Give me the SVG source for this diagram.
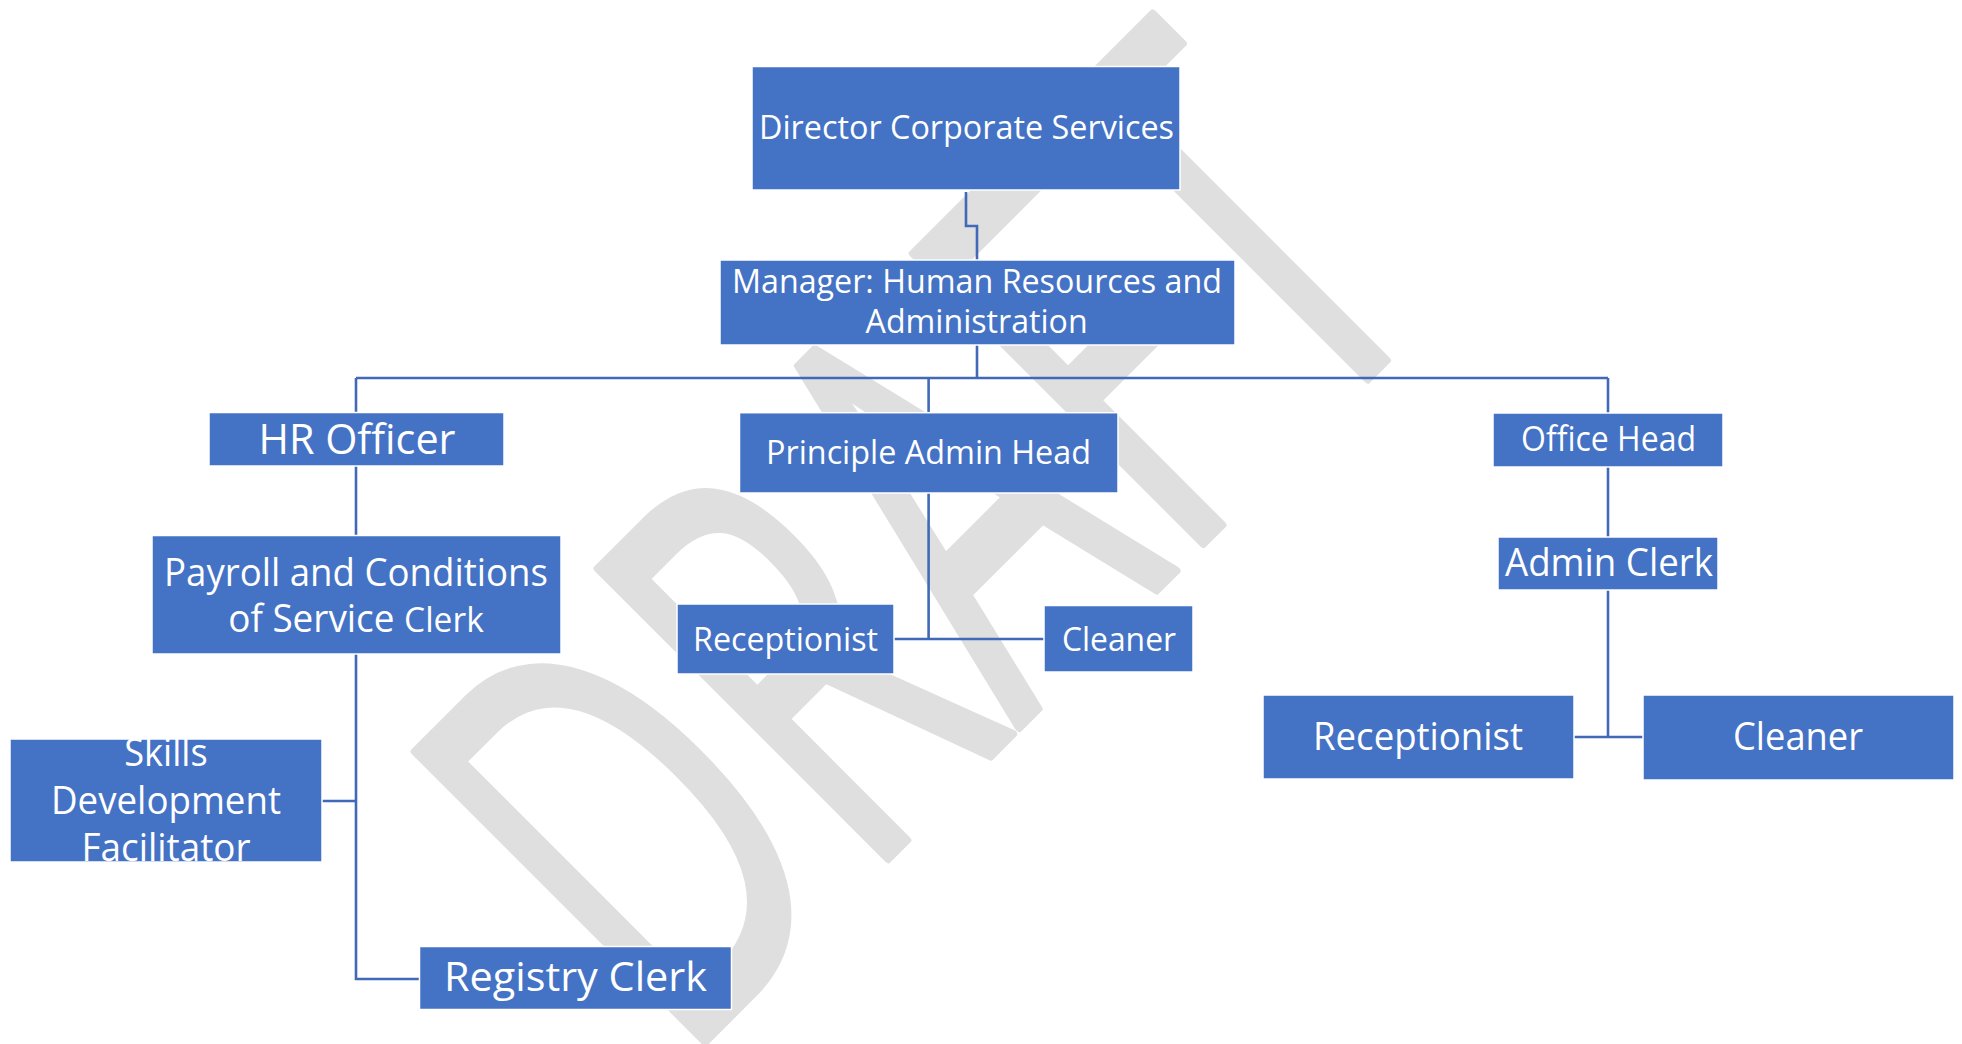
<svg xmlns="http://www.w3.org/2000/svg" width="1962" height="1044" viewBox="0 0 1962 1044">
<style>
.wm{fill:#dfdfdf;stroke:#dfdfdf;stroke-width:8;stroke-linejoin:round;font-family:"Open Sans","Noto Sans",sans-serif;}
.box{fill:#4472c4;stroke:#ffffff;stroke-width:1.5;}
.t{fill:#ffffff;font-family:"Open Sans","Noto Sans",sans-serif;text-anchor:middle;}
.ln{fill:none;stroke:#4169b8;stroke-width:2.6;}
</style>
<rect x="0" y="0" width="1962" height="1044" fill="#ffffff"/>
<g id="watermark">
<text class="wm" transform="translate(1073,674) rotate(-45)" x="-14" y="0" font-size="575" text-anchor="middle" textLength="1085" lengthAdjust="spacingAndGlyphs">DRAFT</text>
</g>
<g id="connectors">
<path class="ln" d="M966,192 V226 H977 V260"/>
<path class="ln" d="M977,345 V378"/>
<path class="ln" d="M356,378 H1608"/>
<path class="ln" d="M356,378 V412"/>
<path class="ln" d="M928.6,378 V412"/>
<path class="ln" d="M1608,378 V413"/>
<path class="ln" d="M356,466 V535"/>
<path class="ln" d="M356,654 V979 H420"/>
<path class="ln" d="M322,801 H356"/>
<path class="ln" d="M928.6,493 V639"/>
<path class="ln" d="M894,639 H1044"/>
<path class="ln" d="M1608,467 V537"/>
<path class="ln" d="M1608,590 V737"/>
<path class="ln" d="M1574,737 H1643"/>
</g>
<g id="director">
<rect class="box" x="752" y="66.5" width="428" height="123.5"/>
<text class="t" x="966.5" y="139" font-size="33.6" textLength="415" lengthAdjust="spacingAndGlyphs">Director Corporate Services</text>
</g>
<g id="manager">
<rect class="box" x="720" y="260" width="515" height="85"/>
<text class="t" x="977" y="293" font-size="33.6" textLength="490" lengthAdjust="spacingAndGlyphs">Manager: Human Resources and</text>
<text class="t" x="976.6" y="333" font-size="33.6" textLength="222" lengthAdjust="spacingAndGlyphs">Administration</text>
</g>
<g id="hr-officer">
<rect class="box" x="209" y="412.5" width="295" height="53.5"/>
<text class="t" x="357" y="454" font-size="41.5" textLength="197" lengthAdjust="spacingAndGlyphs">HR Officer</text>
</g>
<g id="principle-admin-head">
<rect class="box" x="739.5" y="412.7" width="378.5" height="80.3"/>
<text class="t" x="928.5" y="464" font-size="33.6" textLength="325" lengthAdjust="spacingAndGlyphs">Principle Admin Head</text>
</g>
<g id="office-head">
<rect class="box" x="1493" y="413" width="230" height="54"/>
<text class="t" x="1608.5" y="451" font-size="35" textLength="175" lengthAdjust="spacingAndGlyphs">Office Head</text>
</g>
<g id="payroll-clerk">
<rect class="box" x="152" y="535.5" width="409" height="118.5"/>
<text class="t" x="356" y="585.5" font-size="38.5" textLength="384" lengthAdjust="spacingAndGlyphs">Payroll and Conditions</text>
<text class="t" x="356" y="632" font-size="38.5" textLength="255.5" lengthAdjust="spacingAndGlyphs">of Service <tspan font-size="35">Clerk</tspan></text>
</g>
<g id="skills-facilitator">
<rect class="box" x="10" y="739" width="312" height="123"/>
<text class="t" x="166" y="766" font-size="39" textLength="83.5" lengthAdjust="spacingAndGlyphs">Skills</text>
<text class="t" x="166" y="814" font-size="39" textLength="230" lengthAdjust="spacingAndGlyphs">Development</text>
<text class="t" x="166" y="861" font-size="39" textLength="169" lengthAdjust="spacingAndGlyphs">Facilitator</text>
</g>
<g id="registry-clerk">
<rect class="box" x="419.5" y="946.5" width="312" height="63"/>
<text class="t" x="575.5" y="991" font-size="39.5" textLength="263" lengthAdjust="spacingAndGlyphs">Registry Clerk</text>
</g>
<g id="receptionist-mid">
<rect class="box" x="677" y="604" width="217" height="70"/>
<text class="t" x="785.5" y="651" font-size="33.6" textLength="185" lengthAdjust="spacingAndGlyphs">Receptionist</text>
</g>
<g id="cleaner-mid">
<rect class="box" x="1044" y="605.5" width="149" height="66.5"/>
<text class="t" x="1119" y="650.5" font-size="33.6" textLength="114" lengthAdjust="spacingAndGlyphs">Cleaner</text>
</g>
<g id="admin-clerk">
<rect class="box" x="1498" y="537" width="220" height="53"/>
<text class="t" x="1609" y="576" font-size="39" textLength="208" lengthAdjust="spacingAndGlyphs">Admin Clerk</text>
</g>
<g id="receptionist-right">
<rect class="box" x="1263" y="695" width="311" height="84"/>
<text class="t" x="1418" y="750" font-size="38.6" textLength="210" lengthAdjust="spacingAndGlyphs">Receptionist</text>
</g>
<g id="cleaner-right">
<rect class="box" x="1643" y="695" width="311" height="85"/>
<text class="t" x="1798" y="750" font-size="38.6" textLength="130" lengthAdjust="spacingAndGlyphs">Cleaner</text>
</g>
</svg>
